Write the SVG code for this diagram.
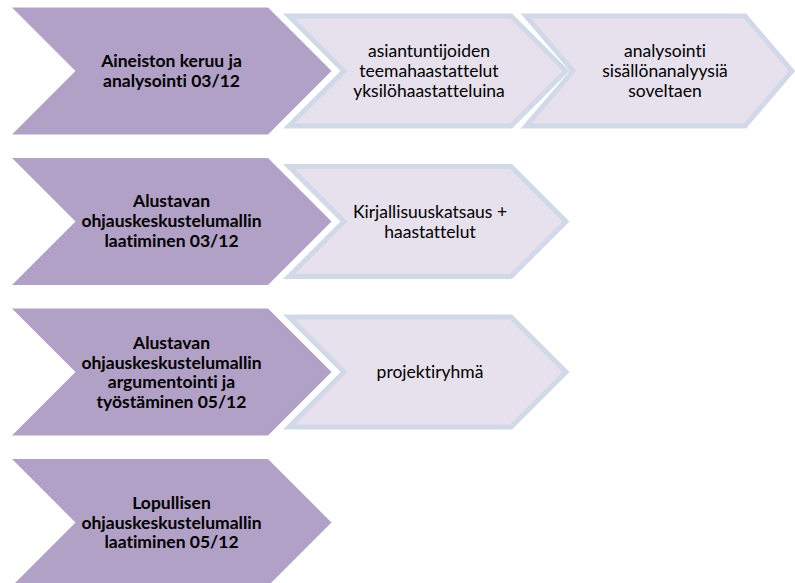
<svg xmlns="http://www.w3.org/2000/svg" width="795" height="583" viewBox="0 0 795 583">
  <style>
    .main { fill: #B2A1C7; stroke: none; }
    .sub { fill: #E6E1EC; stroke: #D1D9E8; stroke-width: 5; stroke-linejoin: miter; }
    .tb { font-family: Lato, "Liberation Sans", sans-serif; font-weight: bold; font-size: 17.5px; fill: #000; text-anchor: middle; font-variant-ligatures: none; }
    .tr { font-family: Lato, "Liberation Sans", sans-serif; font-size: 17.5px; fill: #000; text-anchor: middle; font-variant-ligatures: none; }
  </style>
  <rect width="795" height="583" fill="#FFFFFF"/>
  <g id="connectors"></g>

  <!-- Row 1 -->
  <g id="row1-main">
    <polygon class="main" points="12,7.5 268,7.5 331.5,71 268,134.5 12,134.5 75.5,71"/>
    <text class="tb" x="171.5" y="67">Aineiston keruu ja</text>
    <text class="tb" x="171.5" y="87">analysointi 03/12</text>
  </g>
  <g id="row1-sub1">
    <polygon class="sub" points="289,16 511,16 566,71 511,126 289,126 344,71"/>
    <text class="tr" x="429" y="57">asiantuntijoiden</text>
    <text class="tr" x="429" y="77">teemahaastattelut</text>
    <text class="tr" x="429" y="97">yksilöhaastatteluina</text>
  </g>
  <g id="row1-sub2">
    <polygon class="sub" points="526,16 745,16 792,71 745,126 526,126 573,71"/>
    <text class="tr" x="665" y="57">analysointi</text>
    <text class="tr" x="665" y="77">sisällönanalyysiä</text>
    <text class="tr" x="665" y="97">soveltaen</text>
  </g>

  <!-- Row 2 -->
  <g id="row2-main">
    <polygon class="main" points="12,158 268,158 331.5,221.5 268,285 12,285 75.5,221.5"/>
    <text class="tb" x="171.5" y="207">Alustavan</text>
    <text class="tb" x="171.5" y="227">ohjauskeskustelumallin</text>
    <text class="tb" x="171.5" y="247">laatiminen 03/12</text>
  </g>
  <g id="row2-sub">
    <polygon class="sub" points="289,166.5 511,166.5 566,221.5 511,276.5 289,276.5 344,221.5"/>
    <text class="tr" x="430" y="217.5">Kirjallisuuskatsaus +</text>
    <text class="tr" x="430" y="237.5">haastattelut</text>
  </g>

  <!-- Row 3 -->
  <g id="row3-main">
    <polygon class="main" points="12,308.5 268,308.5 331.5,372 268,435.5 12,435.5 75.5,372"/>
    <text class="tb" x="171.5" y="349">Alustavan</text>
    <text class="tb" x="171.5" y="368.5">ohjauskeskustelumallin</text>
    <text class="tb" x="171.5" y="388">argumentointi ja</text>
    <text class="tb" x="171.5" y="407.5">työstäminen 05/12</text>
  </g>
  <g id="row3-sub">
    <polygon class="sub" points="289,317 511,317 566,372 511,427 289,427 344,372"/>
    <text class="tr" x="430" y="378">projektiryhmä</text>
  </g>

  <!-- Row 4 -->
  <g id="row4-main">
    <polygon class="main" points="12,459 268,459 331.5,522.5 268,586 12,586 75.5,522.5"/>
    <text class="tb" x="171.5" y="509">Lopullisen</text>
    <text class="tb" x="171.5" y="528.5">ohjauskeskustelumallin</text>
    <text class="tb" x="171.5" y="548">laatiminen 05/12</text>
  </g>
</svg>
